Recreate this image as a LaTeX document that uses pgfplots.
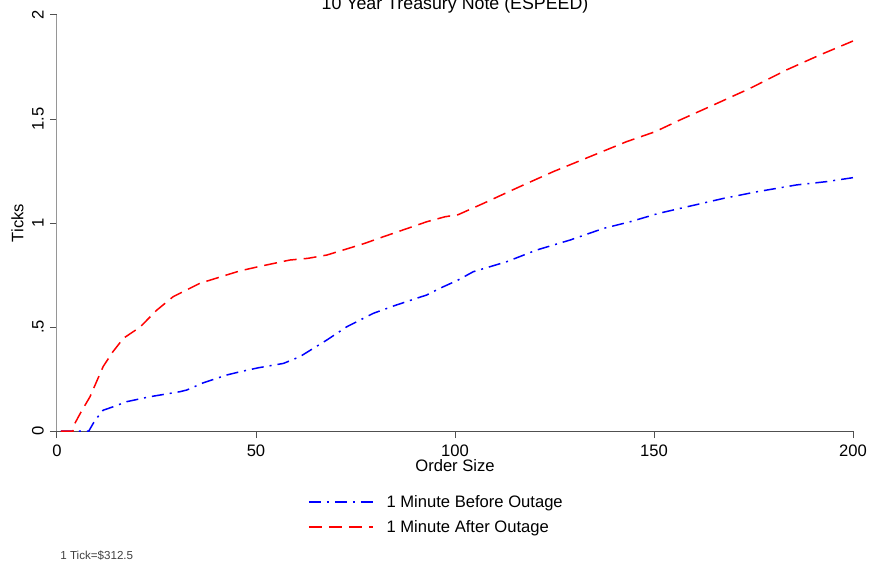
\documentclass[border=0pt]{standalone}
\usepackage{fontspec}
\setmainfont{Liberation Sans}
\usepackage{pgfplots}
\pgfplotsset{compat=1.18}

\definecolor{axgray}{RGB}{150,150,150}
\definecolor{axdark}{RGB}{80,80,80}

\begin{document}
\begin{tikzpicture}
\begin{axis}[
  name=ax, at={(0pt,0pt)}, anchor=south west,
  scale only axis, width=398pt, height=208pt,
  xmin=0, xmax=200, ymin=0, ymax=2,
  axis x line*=bottom, axis y line*=left,
  x axis line style={draw=axdark, line width=0.5pt},
  y axis line style={draw=axgray, line width=0.5pt},
  tick align=outside, major tick length=3.5pt,
  tick style={draw=axdark, line width=0.5pt},
  xtick={0,50,100,150,200}, xticklabels={0,50,100,150,200},
  ytick={0,0.5,1,1.5,2}, yticklabels={0,.5,1,1.5,2},
  font=\fontsize{8.3}{10}\selectfont,
  xticklabel style={anchor=base, inner sep=0pt, yshift=-9.3pt},
  yticklabel style={xshift=-3.2pt, rotate=90, anchor=base, inner sep=0pt},
  xlabel={Order Size},
  xlabel style={at={(axis description cs:0.5,-0.09615)}, anchor=base, inner sep=0pt},
  ylabel={Ticks},
  ylabel style={at={(axis description cs:-0.04146,0.5)}, anchor=south, inner sep=0pt},
  legend style={at={(axis description cs:0.31533,-0.15457)}, anchor=north west,
                draw=none, fill=none, inner sep=0pt, outer sep=0pt,
                row sep=5.2pt, column sep=6.5pt,
                nodes={inner sep=0pt, text height=6pt, text depth=1.5pt},
                font=\fontsize{8.3}{10}\selectfont},
  legend cell align=left,
  legend image code/.code={\draw[#1] (0pt,0.5pt) -- (32pt,0.5pt);},
]

% 1 minute before outage
\addplot[color=blue, line width=0.75pt,
  dash pattern=on 6pt off 3pt on 1pt off 3pt]
  coordinates {(1,0)(8,0)(9.5,0.05)(11.6,0.10)(14.2,0.117)(17.5,0.141)
  (23.4,0.165)(30.9,0.189)(32.6,0.197)(36.8,0.232)(42.6,0.269)(46,0.285)
  (50.6,0.304)(56.9,0.325)(61,0.357)(67.8,0.4375)(72.8,0.501)(79.5,0.566)
  (85.3,0.606)(92.9,0.654)(96.2,0.686)(100.8,0.726)(104.6,0.766)(113,0.814)
  (120.5,0.87)(128.9,0.918)(137.3,0.974)(144,1.006)(151.1,1.046)(156.5,1.07)
  (167.4,1.118)(175.8,1.15)(185.8,1.183)(193.4,1.199)(200,1.218)};
\addlegendentry{1 Minute Before Outage}

% 1 minute after outage
\addplot[color=red, line width=0.75pt, dash pattern=on 6.5pt off 3.5pt]
  coordinates {(1,0)(4,0)(4.3,0.03)(6,0.09)(8.3,0.165)(10,0.24)(11.6,0.31)
  (14,0.38)(16.7,0.446)(20.9,0.50)(25,0.58)(29.2,0.646)(35.9,0.71)(42.6,0.75)
  (46,0.77)(50.6,0.79)(58.5,0.822)(63,0.83)(67.8,0.846)(77,0.90)(82,0.934)
  (92.9,1.006)(97.5,1.03)(100.8,1.04)(107.1,1.094)(116.3,1.175)(124.7,1.247)
  (133.9,1.319)(143.1,1.391)(150.3,1.439)(156.5,1.495)(164.9,1.567)
  (174.1,1.647)(183.3,1.736)(191.7,1.808)(200,1.875)};
\addlegendentry{1 Minute After Outage}

\end{axis}
\node[anchor=base, inner sep=0pt, font=\fontsize{8.9}{10}\selectfont]
  at (199pt,210.5pt) {10 Year Treasury Note (ESPEED)};
\node[anchor=base west, inner sep=0pt, text=black!75,
      font=\fontsize{5.8}{7}\selectfont] at (1.5pt,-64pt) {1 Tick=\$312.5};
\pgfresetboundingbox
\path[use as bounding box] (-28.5pt,-65.5pt) rectangle (407pt,215.5pt);
\end{tikzpicture}
\end{document}
